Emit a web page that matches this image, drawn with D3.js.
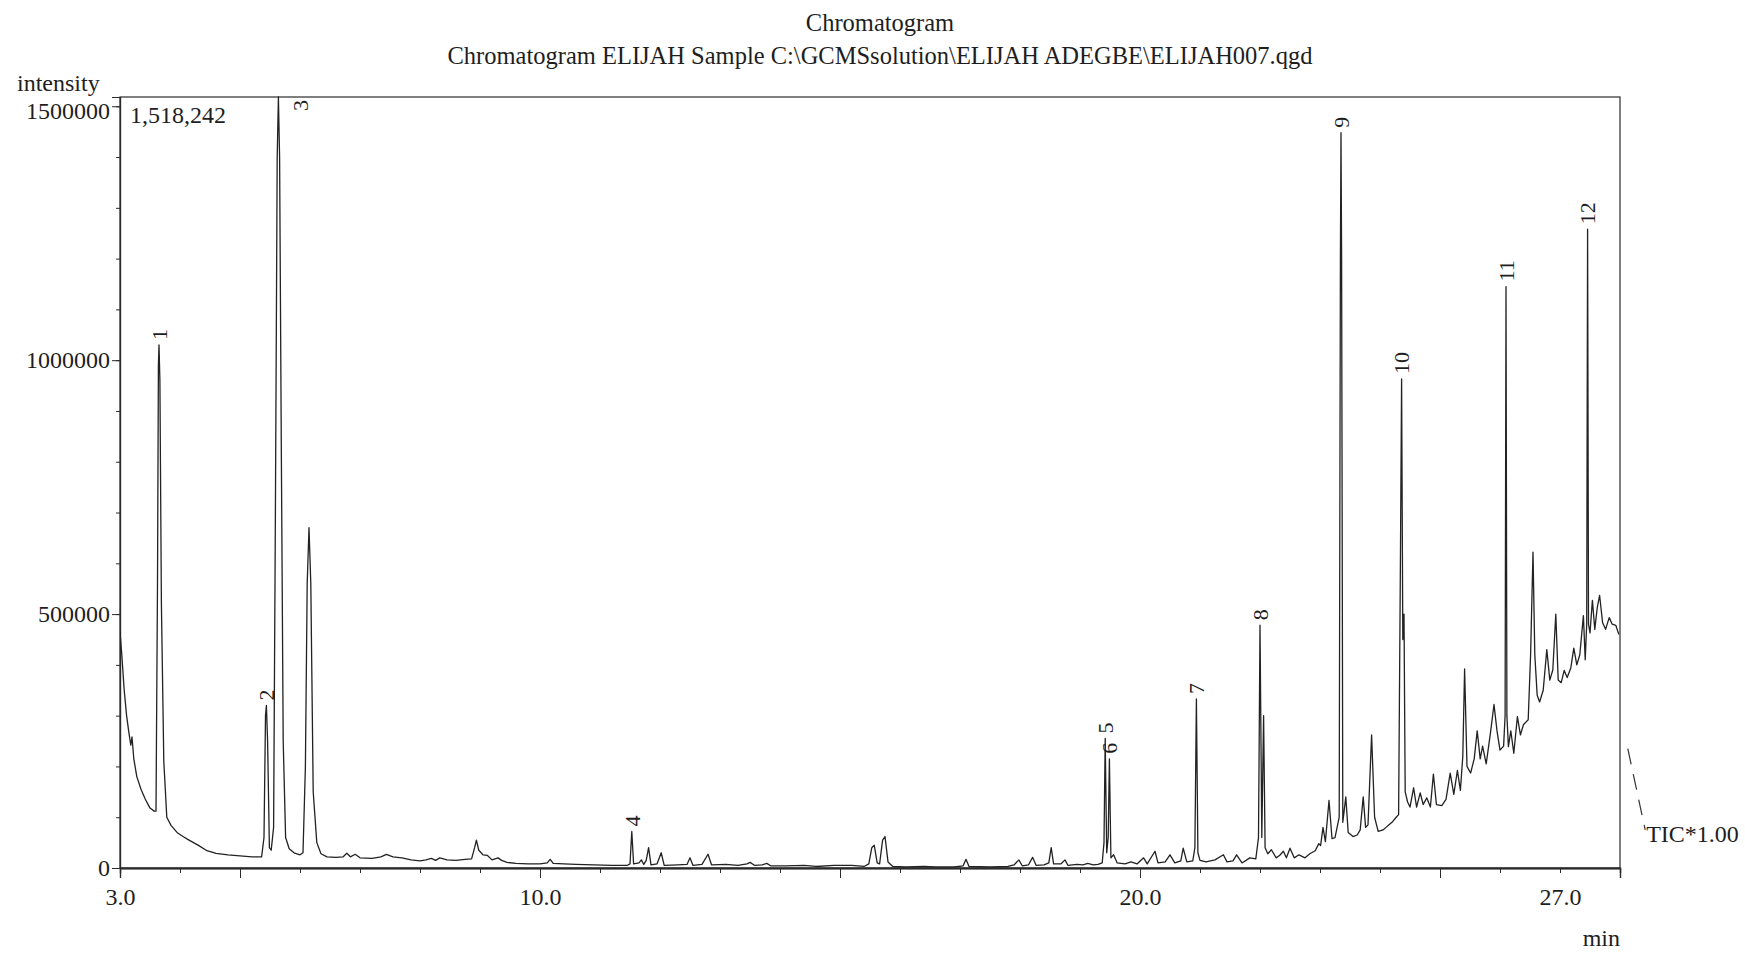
<!DOCTYPE html>
<html>
<head>
<meta charset="utf-8">
<script src="https://cdn.jsdelivr.net/npm/d3@7"></script>
<style>
  html, body { margin: 0; padding: 0; background: #fff; }
  svg { display: block; }
  text { font-family: "Liberation Serif", "Times New Roman", serif; fill: #1e1e1e; }
</style>
</head>
<body>
<svg id="chart" width="1745" height="953"></svg>
<script>
// Total ion chromatogram, [retention time (min), intensity] pairs.
const traceStart = [
  [3.00, 465000], [3.03, 420000], [3.07, 350000], [3.11, 300000], [3.15, 265000],
  [3.18, 242000], [3.20, 258000], [3.23, 215000], [3.28, 180000], [3.35, 155000],
  [3.42, 136000], [3.50, 118000], [3.57, 112000], [3.60, 112000], [3.625, 560000],
  [3.64, 990000], [3.65, 1030000], [3.665, 960000], [3.69, 520000], [3.73, 210000],
  [3.78, 100000], [3.85, 84000], [3.95, 70000], [4.05, 62000], [4.15, 55000],
  [4.30, 45000], [4.45, 34000], [4.60, 29000], [4.80, 26000], [5.00, 24000],
  [5.20, 22000], [5.36, 22000], [5.40, 60000], [5.425, 300000], [5.44, 320000],
  [5.46, 250000], [5.49, 40000], [5.52, 35000], [5.56, 80000], [5.59, 700000],
  [5.62, 1400000], [5.64, 1518242], [5.66, 1400000], [5.69, 800000], [5.72, 250000],
  [5.76, 60000], [5.82, 38000], [5.90, 30000], [6.00, 26000], [6.05, 30000],
  [6.09, 200000], [6.12, 560000], [6.15, 670000], [6.18, 560000], [6.22, 150000],
  [6.28, 50000], [6.35, 28000], [6.45, 22000]
];

const traceMiddle = [
  [6.60, 21000], [6.72, 22000], [6.78, 29000], [6.84, 22000], [6.92, 27000],
  [7.00, 20000], [7.20, 19000], [7.35, 22000], [7.44, 27000], [7.55, 22000],
  [7.70, 20000], [7.85, 16000], [8.00, 14000], [8.10, 16000], [8.19, 19000],
  [8.26, 15000], [8.33, 20000], [8.45, 16000], [8.60, 15000], [8.75, 17000],
  [8.86, 18000], [8.91, 40000], [8.94, 55000], [8.98, 35000], [9.05, 26000],
  [9.12, 25000], [9.20, 16000], [9.30, 20000], [9.36, 15000], [9.45, 11000],
  [9.60, 9000], [9.80, 8000], [10.00, 8000], [10.12, 10000], [10.17, 17000],
  [10.22, 9000], [10.40, 8000], [10.60, 7000], [10.90, 6000], [11.20, 5000],
  [11.45, 5000], [11.50, 8000], [11.53, 72000], [11.56, 8000], [11.65, 10000],
  [11.69, 16000], [11.73, 7000], [11.77, 15000], [11.81, 40000], [11.85, 6000],
  [11.95, 8000], [12.02, 30000], [12.07, 5000], [12.30, 6000], [12.45, 7000],
  [12.50, 20000], [12.55, 5000], [12.70, 7000], [12.80, 27000], [12.86, 6000],
  [13.10, 7000], [13.30, 5000], [13.45, 8000], [13.50, 11000], [13.58, 5000],
  [13.70, 6000], [13.78, 9000], [13.85, 4000], [14.10, 4000], [14.40, 5000],
  [14.60, 3000], [14.90, 5000], [15.20, 5000], [15.40, 3000], [15.48, 8000],
  [15.53, 40000], [15.57, 45000], [15.62, 10000], [15.66, 8000], [15.71, 55000],
  [15.75, 62000], [15.80, 12000], [15.88, 3000], [16.10, 2000], [16.40, 3000],
  [16.60, 2000], [16.90, 2000], [17.05, 4000], [17.10, 17000], [17.15, 3000],
  [17.50, 2000], [17.80, 3000], [17.90, 6000], [17.98, 16000], [18.04, 4000],
  [18.14, 6000], [18.21, 21000], [18.27, 5000], [18.40, 6000], [18.48, 10000],
  [18.52, 40000], [18.56, 8000], [18.68, 8000], [18.75, 16000], [18.80, 5000],
  [18.95, 7000], [19.05, 6000], [19.13, 9000], [19.22, 6000], [19.30, 7000],
  [19.37, 10000]
];

const traceLate = [
  [19.40, 50000], [19.42, 255000], [19.445, 30000], [19.47, 60000], [19.49, 215000],
  [19.515, 20000], [19.56, 26000], [19.62, 10000], [19.75, 8000], [19.85, 12000],
  [19.95, 8000], [20.06, 20000], [20.12, 8000], [20.25, 33000], [20.30, 10000],
  [20.42, 12000], [20.50, 26000], [20.58, 10000], [20.68, 14000], [20.72, 39000],
  [20.78, 12000], [20.88, 14000], [20.915, 40000], [20.94, 333000], [20.965, 30000],
  [21.00, 15000], [21.10, 12000], [21.25, 16000], [21.39, 26000], [21.45, 12000],
  [21.55, 14000], [21.61, 26000], [21.70, 10000], [21.83, 20000], [21.93, 18000],
  [21.975, 60000], [22.00, 478000], [22.03, 60000], [22.06, 300000], [22.085, 40000],
  [22.13, 28000], [22.19, 36000], [22.27, 20000], [22.33, 25000], [22.39, 33000],
  [22.44, 20000], [22.50, 39000], [22.57, 20000], [22.65, 26000], [22.75, 20000],
  [22.83, 28000], [22.92, 34000], [22.98, 48000], [23.01, 44000], [23.05, 80000],
  [23.09, 52000], [23.15, 133000], [23.20, 58000], [23.25, 60000], [23.32, 100000],
  [23.34, 1200000], [23.35, 1448000], [23.36, 1200000], [23.38, 90000], [23.43, 140000],
  [23.47, 70000], [23.55, 62000], [23.62, 65000], [23.67, 75000], [23.72, 140000],
  [23.76, 80000], [23.80, 85000], [23.86, 262000], [23.91, 100000], [23.97, 72000],
  [24.05, 75000], [24.10, 80000], [24.15, 85000], [24.20, 90000], [24.27, 100000],
  [24.31, 105000], [24.34, 600000], [24.36, 963000], [24.38, 450000], [24.40, 500000],
  [24.42, 150000], [24.46, 130000], [24.50, 120000], [24.56, 158000], [24.61, 120000],
  [24.67, 148000], [24.72, 125000], [24.78, 138000], [24.84, 120000], [24.89, 185000],
  [24.94, 125000], [25.03, 123000], [25.10, 135000], [25.17, 187000], [25.23, 145000],
  [25.29, 192000], [25.34, 153000], [25.38, 220000], [25.41, 392000], [25.45, 200000],
  [25.51, 187000], [25.57, 215000], [25.62, 270000], [25.67, 215000], [25.71, 240000],
  [25.77, 205000], [25.84, 265000], [25.90, 322000], [25.95, 270000], [26.00, 232000],
  [26.06, 240000], [26.085, 300000], [26.10, 1145000], [26.115, 300000], [26.14, 239000],
  [26.18, 270000], [26.23, 226000], [26.29, 298000], [26.34, 262000], [26.39, 282000],
  [26.47, 292000], [26.51, 420000], [26.55, 622000], [26.58, 420000], [26.62, 340000],
  [26.66, 327000], [26.72, 350000], [26.78, 430000], [26.83, 370000], [26.88, 390000],
  [26.93, 500000], [26.97, 370000], [27.02, 365000], [27.07, 389000], [27.12, 375000],
  [27.18, 394000], [27.23, 433000], [27.28, 400000], [27.33, 420000], [27.39, 497000],
  [27.42, 410000], [27.445, 480000], [27.46, 1258000], [27.475, 480000], [27.50, 463000],
  [27.54, 527000], [27.58, 470000], [27.62, 512000], [27.66, 537000], [27.71, 483000],
  [27.76, 470000], [27.82, 493000], [27.87, 480000], [27.93, 478000], [27.98, 460000]
];

// Continuation of the TIC trace beyond the time window (drawn dashed).
const ticTail = [[28.13, 235000], [28.42, 75000]];

// Numbered peaks and their retention times.
const peakNumbers = [1, 2, 3, 4, 5, 6, 7, 8, 9, 10, 11, 12];
const peakTimes = [3.65, 5.44, 5.64, 11.53, 19.42, 19.49, 20.94, 22.00, 23.35, 24.36, 26.10, 27.46];

// Axis ranges and labels.
const timeRange = [3.0, 28.0];
const fullScale = 1518242;
const xTickLabels = [3.0, 10.0, 20.0, 27.0];
const yTickLabels = [0, 500000, 1000000, 1500000];

const titleText = "Chromatogram";
const subtitleText = "Chromatogram ELIJAH Sample C:\\GCMSsolution\\ELIJAH ADEGBE\\ELIJAH007.qgd";

// ---------------------------------------------------------------
const svg = d3.select("#chart");
const ink = "#2b2b2b";
const plot = { left: 120, right: 1620, top: 97, bottom: 868 };

const x = d3.scaleLinear().domain(timeRange).range([plot.left, plot.right]);
const y = d3.scaleLinear().domain([0, fullScale]).range([plot.bottom, plot.top]);

const trace = traceStart.concat(traceMiddle, traceLate);

// Titles
svg.append("text").attr("x", 880).attr("y", 31).attr("text-anchor", "middle")
  .attr("font-size", 24.5).text(titleText);
svg.append("text").attr("x", 880).attr("y", 64).attr("text-anchor", "middle")
  .attr("font-size", 24.5).text(subtitleText);
svg.append("text").attr("x", 17).attr("y", 91).attr("font-size", 24).text("intensity");

// Frame
svg.append("rect")
  .attr("x", plot.left).attr("y", plot.top)
  .attr("width", plot.right - plot.left).attr("height", plot.bottom - plot.top)
  .attr("fill", "none").attr("stroke", ink).attr("stroke-width", 1.2);

// Y axis: minor ticks every 100000, labelled major ticks every 500000
const yMinor = svg.append("g").attr("transform", `translate(${plot.left},0)`)
  .call(d3.axisLeft(y).tickValues(d3.range(0, fullScale, 100000)).tickSize(4).tickFormat(""));
const yMajor = svg.append("g").attr("transform", `translate(${plot.left},0)`)
  .call(d3.axisLeft(y).tickValues(yTickLabels).tickSize(8).tickPadding(2).tickFormat(d3.format("d")));
[yMinor, yMajor].forEach(g => {
  g.select(".domain").attr("stroke", ink).attr("stroke-width", 1.2);
  g.selectAll(".tick line").attr("stroke", ink).attr("stroke-width", 1);
});
yMajor.selectAll(".tick text").attr("font-family", "Liberation Serif")
  .attr("font-size", 24).attr("fill", "#1e1e1e");
// the top label sits a little lower, clear of the frame corner
yMajor.selectAll(".tick").filter(d => d === yTickLabels[yTickLabels.length - 1])
  .select("text").attr("y", 5);

// X axis: minor ticks every minute, longer ticks every 5 minutes
const xMinor = svg.append("g").attr("transform", `translate(0,${plot.bottom})`)
  .call(d3.axisBottom(x).tickValues(d3.range(3, 28.01, 1)).tickSize(5).tickFormat(""));
const xMajor = svg.append("g").attr("transform", `translate(0,${plot.bottom})`)
  .call(d3.axisBottom(x).tickValues(d3.range(5, 28, 5)).tickSize(10).tickFormat(""));
const xLabels = svg.append("g").attr("transform", `translate(0,${plot.bottom})`)
  .call(d3.axisBottom(x).tickValues(xTickLabels).tickSize(0).tickPadding(20).tickFormat(d3.format(".1f")));
[xMinor, xMajor, xLabels].forEach(g => {
  g.select(".domain").attr("stroke", ink).attr("stroke-width", 1.4);
  g.selectAll(".tick line").attr("stroke", ink).attr("stroke-width", 1);
});
xLabels.selectAll(".tick text").attr("font-family", "Liberation Serif")
  .attr("font-size", 24).attr("fill", "#1e1e1e");

svg.append("text").attr("x", plot.right).attr("y", 946).attr("text-anchor", "end")
  .attr("font-size", 24).text("min");

// Full-scale intensity
svg.append("text").attr("x", plot.left + 10).attr("y", y(1500000) + 17)
  .attr("font-size", 24).text(d3.format(",")(fullScale));

// Trace
svg.append("clipPath").attr("id", "plot-clip").append("rect")
  .attr("x", plot.left).attr("y", plot.top - 1)
  .attr("width", plot.right - plot.left).attr("height", plot.bottom - plot.top + 1);

const line = d3.line().x(d => x(d[0])).y(d => y(d[1]));
svg.append("path").datum(trace)
  .attr("clip-path", "url(#plot-clip)")
  .attr("fill", "none").attr("stroke", "#222").attr("stroke-width", 1.3)
  .attr("stroke-linejoin", "round").attr("d", line);

// Dashed continuation and TIC label
svg.append("path").datum(ticTail)
  .attr("fill", "none").attr("stroke", "#333").attr("stroke-width", 1.2)
  .attr("stroke-dasharray", "16 10").attr("d", line);
const tailEnd = ticTail[ticTail.length - 1];
svg.append("text").attr("x", x(tailEnd[0]) + 1).attr("y", y(tailEnd[1]) + 12)
  .attr("font-size", 24).text("TIC*1.00");

// Peak numbers, rotated, just above each apex
const labels = svg.append("g");
peakNumbers.forEach((n, i) => {
  const t = peakTimes[i];
  const apex = trace.find(d => Math.abs(d[0] - t) < 1e-9);
  let px = x(t), py = y(apex[1]) - 5;
  // a peak reaching full scale gets its number beside it, inside the frame
  if (py < plot.top + 20) { px += 22; py = plot.top + 14; }
  labels.append("text")
    .attr("transform", `translate(${px},${py}) rotate(-90)`)
    .attr("dy", "0.35em").attr("font-size", 22).text(n);
});
</script>
</body>
</html>
